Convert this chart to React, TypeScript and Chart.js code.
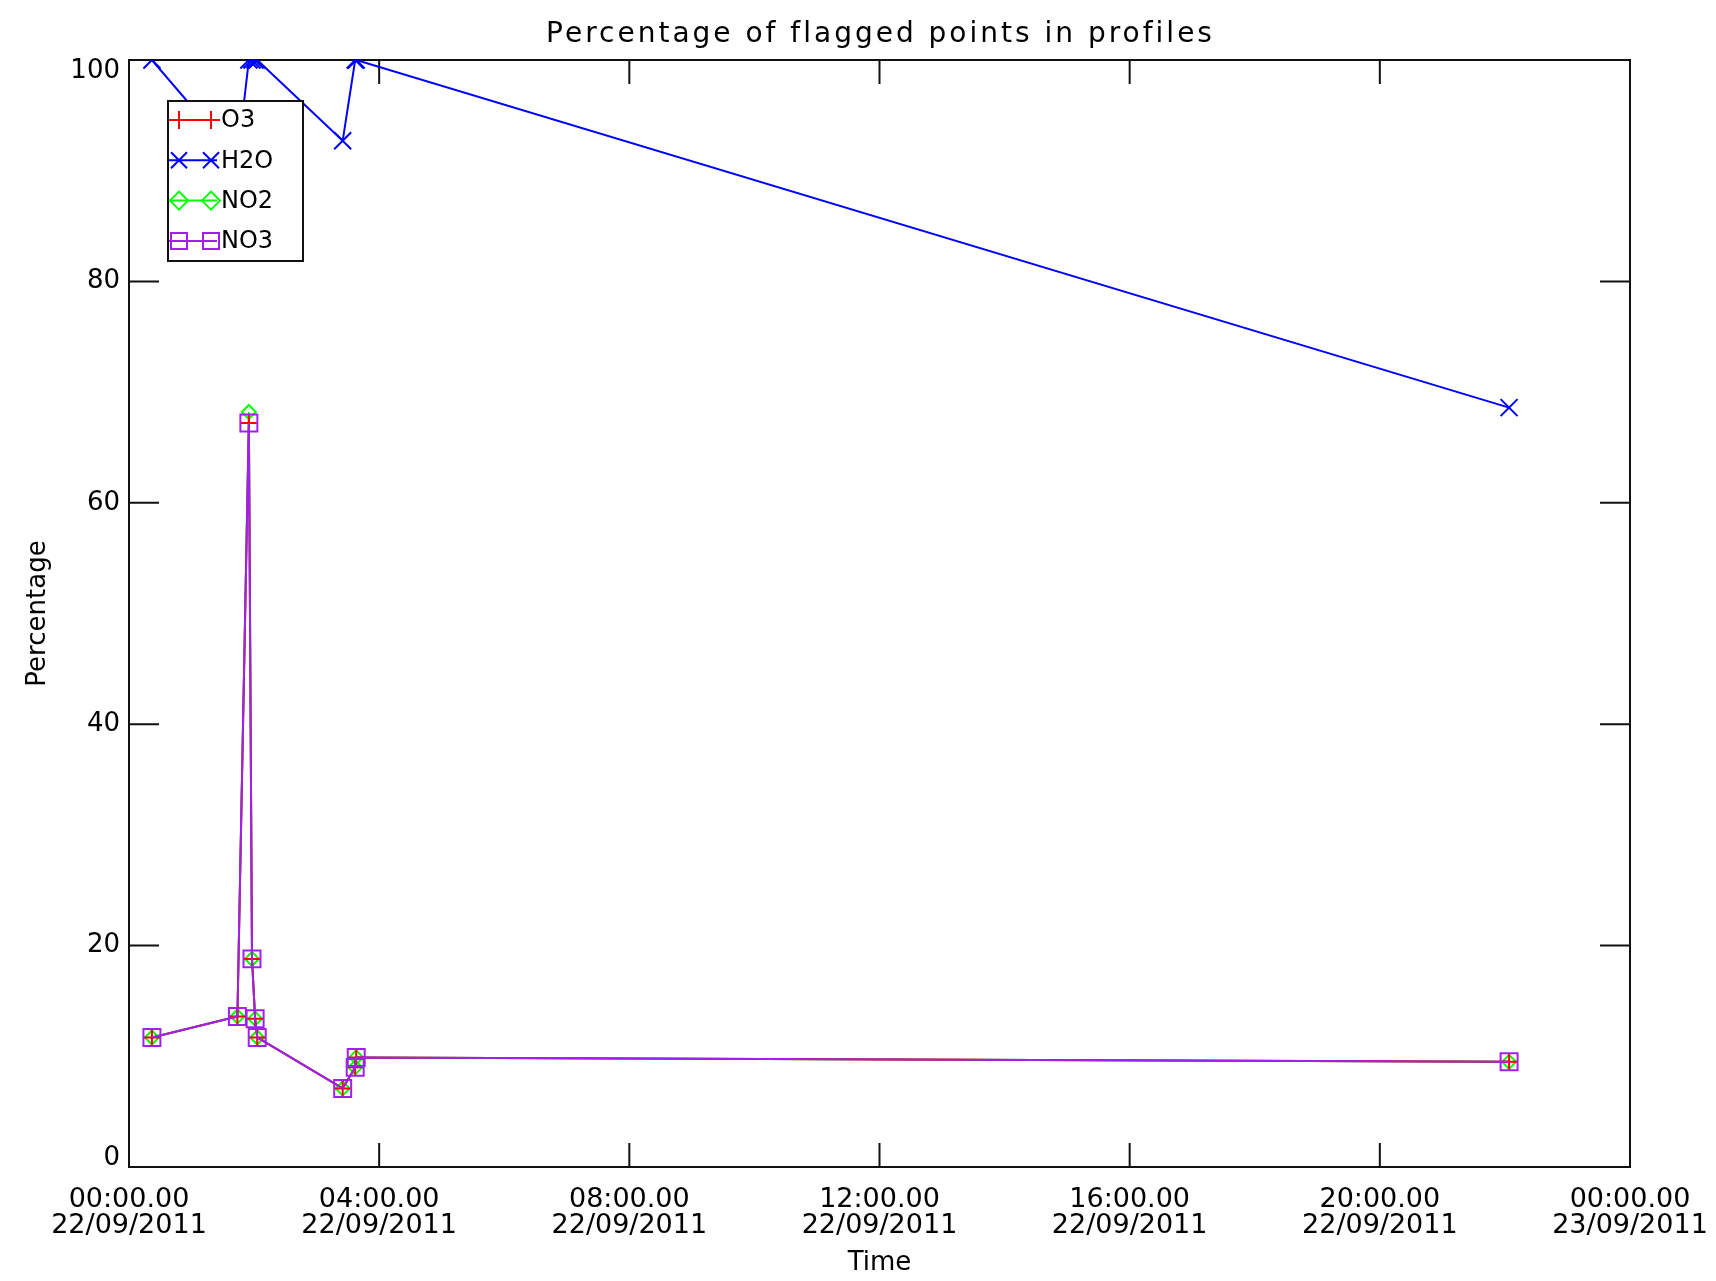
import React, { useEffect, useRef } from "react";
import { Chart, registerables } from "chart.js";

Chart.register(...registerables);

const CHART_TITLE = "Percentage of flagged points in profiles";
const X_AXIS_TITLE = "Time";
const Y_AXIS_TITLE = "Percentage";

const SERIES_NAMES = ["O3", "H2O", "NO2", "NO3"];
const SERIES_COLORS = ["#ff0000", "#0000ff", "#00ff00", "#a020f0"];
const SERIES_MARKERS = ["cross", "crossRot", "rectRot", "rect"];

// profile times on 22/09/2011 (HH:MM)
const PROFILE_TIMES = ["00:22", "01:44", "01:55", "01:58", "02:01", "02:03", "03:25", "03:37", "03:38", "22:04"];
const O3_VALUES = [11.7, 13.6, 67.2, 18.8, 13.4, 11.7, 7.1, 9.0, 9.9, 9.5];
const H2O_VALUES = [100, 91, 100, 100, 100, 100, 92.7, 100, 100, 68.6];
const NO2_VALUES = [11.7, 13.6, 68.2, 18.8, 13.4, 11.7, 7.1, 9.0, 9.9, 9.5];
const NO3_VALUES = [11.7, 13.6, 67.2, 18.8, 13.4, 11.7, 7.1, 9.0, 9.9, 9.5];

const X_TICK_HOURS = [0, 4, 8, 12, 16, 20, 24];
const X_TICK_TIMES = ["00:00.00", "04:00.00", "08:00.00", "12:00.00", "16:00.00", "20:00.00", "00:00.00"];
const X_TICK_DATES = ["22/09/2011", "22/09/2011", "22/09/2011", "22/09/2011", "22/09/2011", "22/09/2011", "23/09/2011"];
const Y_TICK_VALUES = [0, 20, 40, 60, 80, 100];

const FONT = "'DejaVu Sans', sans-serif";

const toHours = (t: string) => {
  const [h, m] = t.split(":").map(Number);
  return h + m / 60;
};

function drawMarker(ctx: CanvasRenderingContext2D, style: string, x: number, y: number, r: number) {
  ctx.beginPath();
  if (style === "cross") {
    ctx.moveTo(x - r, y); ctx.lineTo(x + r, y);
    ctx.moveTo(x, y - r); ctx.lineTo(x, y + r);
  } else if (style === "crossRot") {
    ctx.moveTo(x - r, y - r); ctx.lineTo(x + r, y + r);
    ctx.moveTo(x - r, y + r); ctx.lineTo(x + r, y - r);
  } else if (style === "rectRot") {
    ctx.moveTo(x - r, y); ctx.lineTo(x, y - r); ctx.lineTo(x + r, y); ctx.lineTo(x, y + r); ctx.closePath();
  } else {
    ctx.rect(x - r, y - r, 2 * r, 2 * r);
  }
  ctx.stroke();
}

const framePlugin = {
  id: "idlFrame",
  beforeDatasetsDraw(chart: any) {
    const { ctx, chartArea: a, scales } = chart;
    ctx.save();
    // title, centred over the plot box
    ctx.fillStyle = "#000";
    ctx.font = `28px ${FONT}`;
    (ctx as any).letterSpacing = "3px";
    ctx.textAlign = "center";
    ctx.textBaseline = "middle";
    ctx.fillText(CHART_TITLE, (a.left + a.right) / 2 + 1, 35);
    (ctx as any).letterSpacing = "0px";

    ctx.strokeStyle = "#111";
    ctx.lineWidth = 2;
    ctx.strokeRect(a.left, a.top, a.right - a.left, a.bottom - a.top);
    ctx.beginPath();
    for (const h of X_TICK_HOURS) {
      const x = scales.x.getPixelForValue(h);
      ctx.moveTo(x, a.bottom); ctx.lineTo(x, a.bottom - 24);
      ctx.moveTo(x, a.top); ctx.lineTo(x, a.top + 24);
    }
    for (const v of Y_TICK_VALUES) {
      const y = scales.y.getPixelForValue(v);
      ctx.moveTo(a.left, y); ctx.lineTo(a.left + 30, y);
      ctx.moveTo(a.right, y); ctx.lineTo(a.right - 30, y);
    }
    ctx.stroke();
    ctx.fillStyle = "#000";
    ctx.font = `26px ${FONT}`;
    ctx.textAlign = "right";
    ctx.textBaseline = "middle";
    for (const v of Y_TICK_VALUES) {
      const p = scales.y.getPixelForValue(v);
      const y = Math.min(Math.max(p, a.top + 11), a.bottom - 9);
      ctx.fillText(String(v), a.left - 9, y);
    }
    ctx.restore();
  },
  afterDatasetsDraw(chart: any) {
    const { ctx, chartArea: a } = chart;
    const bx = a.left + 39;
    const by = a.top + 41;
    const bw = 135;
    const bh = 160;
    ctx.save();
    ctx.fillStyle = "#fff";
    ctx.fillRect(bx, by, bw, bh);
    ctx.strokeStyle = "#111";
    ctx.lineWidth = 2;
    ctx.strokeRect(bx, by, bw, bh);
    ctx.font = `24px ${FONT}`;
    ctx.textAlign = "left";
    ctx.textBaseline = "middle";
    SERIES_NAMES.forEach((name, i) => {
      const y = by + 19 + i * 40.3;
      ctx.strokeStyle = SERIES_COLORS[i];
      ctx.lineWidth = 2;
      ctx.beginPath();
      ctx.moveTo(bx + 1, y); ctx.lineTo(bx + 49, y);
      ctx.stroke();
      const r = SERIES_MARKERS[i] === "crossRot" || SERIES_MARKERS[i] === "rect" ? 8 : 9;
      drawMarker(ctx, SERIES_MARKERS[i], bx + 11, y, r);
      drawMarker(ctx, SERIES_MARKERS[i], bx + 43, y, r);
      ctx.fillStyle = "#000";
      ctx.fillText(name, bx + 53, y + 1);
    });
    ctx.restore();
  },
};

export default function App() {
  const canvasRef = useRef<HTMLCanvasElement | null>(null);

  useEffect(() => {
    if (!canvasRef.current) return;
    const hours = PROFILE_TIMES.map(toHours);
    const mk = (vals: number[]) => vals.map((v, i) => ({ x: hours[i], y: v }));
    const seriesValues = [O3_VALUES, H2O_VALUES, NO2_VALUES, NO3_VALUES];
    const radii = [8, 12, 7, 12];
    const orders = [1, 3, 2, 0];
    const datasets = SERIES_NAMES.map((name, i) => ({
      label: name,
      data: mk(seriesValues[i]),
      borderColor: SERIES_COLORS[i],
      backgroundColor: SERIES_COLORS[i],
      borderWidth: 2,
      pointStyle: SERIES_MARKERS[i] as any,
      pointRadius: radii[i],
      pointBorderWidth: 2,
      pointBorderColor: SERIES_COLORS[i],
      pointBackgroundColor: "rgba(0,0,0,0)",
      tension: 0,
      fill: false,
      order: orders[i],
    }));

    const chart = new Chart(canvasRef.current, {
      type: "line",
      data: { datasets },
      plugins: [framePlugin],
      options: {
        animation: false,
        responsive: false,
        events: [],
        layout: { padding: { left: 0, right: 86, top: 60, bottom: 0 } },
        plugins: {
          legend: { display: false },
          tooltip: { enabled: false },
          title: { display: false },
        },
        scales: {
          x: {
            type: "linear",
            position: "bottom",
            min: 0,
            max: 24,
            grid: { display: false, drawTicks: true, tickLength: 12 },
            border: { display: false },
            afterBuildTicks: (s: any) => {
              s.ticks = X_TICK_HOURS.map((v) => ({ value: v }));
            },
            afterFit: (s: any) => {
              s.height = 114;
            },
            ticks: {
              autoSkip: false,
              maxRotation: 0,
              minRotation: 0,
              padding: 8,
              color: "#000",
              font: { family: FONT, size: 27, lineHeight: 0.963 },
              callback: (v: any) => {
                const i = X_TICK_HOURS.indexOf(Number(v));
                return i >= 0 ? [X_TICK_TIMES[i], X_TICK_DATES[i]] : "";
              },
            },
            title: {
              display: true,
              text: X_AXIS_TITLE,
              color: "#000",
              font: { family: FONT, size: 26, lineHeight: 1 },
              padding: { top: 0, bottom: 5 },
            },
          },
          y: {
            type: "linear",
            min: 0,
            max: 100,
            grid: { display: false, drawTicks: false },
            border: { display: false },
            ticks: { display: false, stepSize: 20 },
            afterFit: (s: any) => {
              s.width = 129;
            },
            title: {
              display: true,
              text: Y_AXIS_TITLE,
              color: "#000",
              font: { family: FONT, size: 26, lineHeight: 1 },
              padding: { top: 25, bottom: 0 },
            },
          },
        },
      },
    });
    return () => chart.destroy();
  }, []);

  return (
    <div style={{ position: "fixed", left: 0, top: 0, width: 1716, height: 1281, background: "#fff" }}>
      <canvas ref={canvasRef} width={1716} height={1281} style={{ display: "block" }} />
    </div>
  );
}
